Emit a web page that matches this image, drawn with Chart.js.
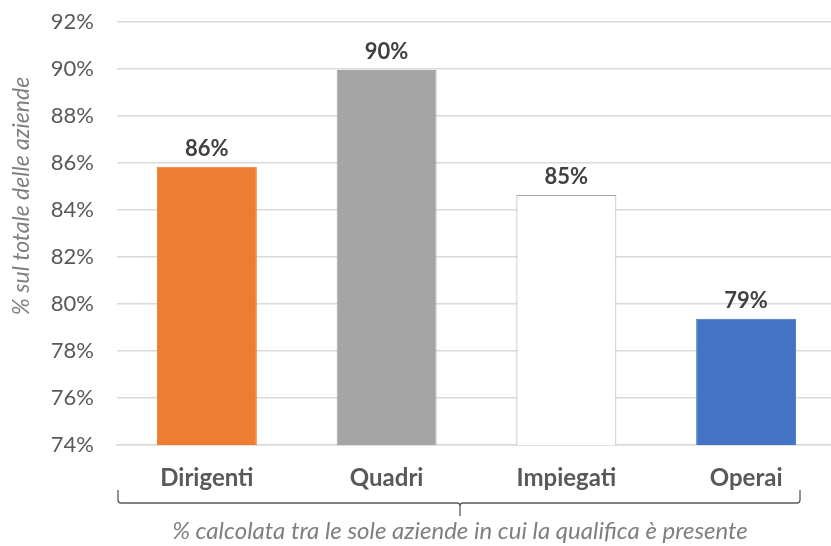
<!DOCTYPE html>
<html>
<head>
<meta charset="utf-8">
<script src="https://cdn.jsdelivr.net/npm/chart.js@4.4.1/dist/chart.umd.min.js"></script>
<style>
  html, body { margin: 0; padding: 0; background: #fff; overflow: hidden; }
  #wrap { width: 831px; height: 546px; position: relative; overflow: hidden; }
</style>
</head>
<body>
<div id="wrap"><canvas id="chart" width="836" height="546"></canvas></div>
<script>
var categories = ['Dirigenti', 'Quadri', 'Impiegati', 'Operai'];
var values = [85.84, 89.96, 84.64, 79.37];
var barColors = ['#ED7D31', '#A5A5A5', '#FFFFFF', '#4472C4'];
var borderColors = ['#ED7D31', '#A5A5A5', '#A6A6A6', '#4472C4'];
var yTitle = '% sul totale delle aziende';
var xNote = '% calcolata tra le sole aziende in cui la qualifica è presente';

var FONT = 'Lato, "Open Sans", sans-serif';

// value labels above bars
var valueLabels = {
    id: 'valueLabels',
    afterDatasetsDraw: function (chart) {
        var ctx = chart.ctx;
        var meta = chart.getDatasetMeta(0);
        ctx.save();
        ctx.font = 'bold 22px ' + FONT;
        ctx.fillStyle = '#404040';
        ctx.textAlign = 'center';
        ctx.textBaseline = 'bottom';
        meta.data.forEach(function (bar, i) {
            ctx.fillText(Math.round(values[i]) + '%', bar.x, bar.y - 7);
        });
        ctx.restore();
    }
};

// y title, bracket and note under the axis
var extras = {
    id: 'extras',
    afterDraw: function (chart) {
        var ctx = chart.ctx;
        var area = chart.chartArea;
        ctx.save();
        ctx.fillStyle = '#7F7F7F';
        ctx.font = 'italic 23px ' + FONT;
        ctx.textAlign = 'center';
        ctx.textBaseline = 'middle';
        ctx.translate(22, 196);
        ctx.rotate(-Math.PI / 2);
        ctx.fillText(yTitle, 0, 0);
        ctx.restore();

        var x0 = area.left + 1, x1 = 800, yb = 503, mid = 460;
        ctx.save();
        ctx.strokeStyle = '#595959';
        ctx.lineWidth = 1.3;
        ctx.beginPath();
        ctx.moveTo(x0, 490);
        ctx.lineTo(x0, yb - 3);
        ctx.quadraticCurveTo(x0, yb, x0 + 3, yb);
        ctx.lineTo(mid - 3, yb);
        ctx.quadraticCurveTo(mid, yb, mid, yb + 3);
        ctx.lineTo(mid, 516);
        ctx.moveTo(mid, yb + 3);
        ctx.quadraticCurveTo(mid, yb, mid + 3, yb);
        ctx.lineTo(x1 - 3, yb);
        ctx.quadraticCurveTo(x1, yb, x1, yb - 3);
        ctx.lineTo(x1, 490);
        ctx.stroke();
        ctx.restore();

        ctx.save();
        ctx.fillStyle = '#7F7F7F';
        ctx.font = 'italic 24px ' + FONT;
        ctx.textAlign = 'center';
        ctx.textBaseline = 'middle';
        ctx.fillText(xNote, mid, 531);
        ctx.restore();
    }
};

var ctx = document.getElementById('chart').getContext('2d');
var chart = new Chart(ctx, {
    type: 'bar',
    data: {
        labels: categories,
        datasets: [{
            data: values,
            backgroundColor: barColors,
            borderColor: borderColors,
            borderWidth: 1,
            barPercentage: 0.556,
            categoryPercentage: 1
        }]
    },
    options: {
        responsive: false,
        animation: false,
        layout: { padding: { top: 22, right: 0, bottom: 0, left: 0 } },
        plugins: {
            legend: { display: false },
            tooltip: { enabled: false }
        },
        scales: {
            x: {
                grid: { display: false, drawTicks: false },
                border: { color: '#D9D9D9', width: 1.5 },
                ticks: {
                    color: '#595959',
                    font: { family: FONT, size: 24, weight: 'bold' },
                    padding: 19
                },
                afterFit: function (scale) {
                    scale.height = 101;
                    scale.paddingLeft = 0;
                    scale.paddingRight = 0;
                }
            },
            y: {
                min: 74,
                max: 92,
                grid: { color: '#D9D9D9', lineWidth: 1.5, drawTicks: false },
                border: { display: false },
                ticks: {
                    stepSize: 2,
                    color: '#595959',
                    font: { family: FONT, size: 22 },
                    padding: 23,
                    callback: function (v) { return v + '%'; }
                },
                afterFit: function (scale) {
                    scale.width = 117;
                    scale.paddingTop = 0;
                    scale.paddingBottom = 0;
                }
            }
        }
    },
    plugins: [valueLabels, extras]
});
</script>
</body>
</html>
